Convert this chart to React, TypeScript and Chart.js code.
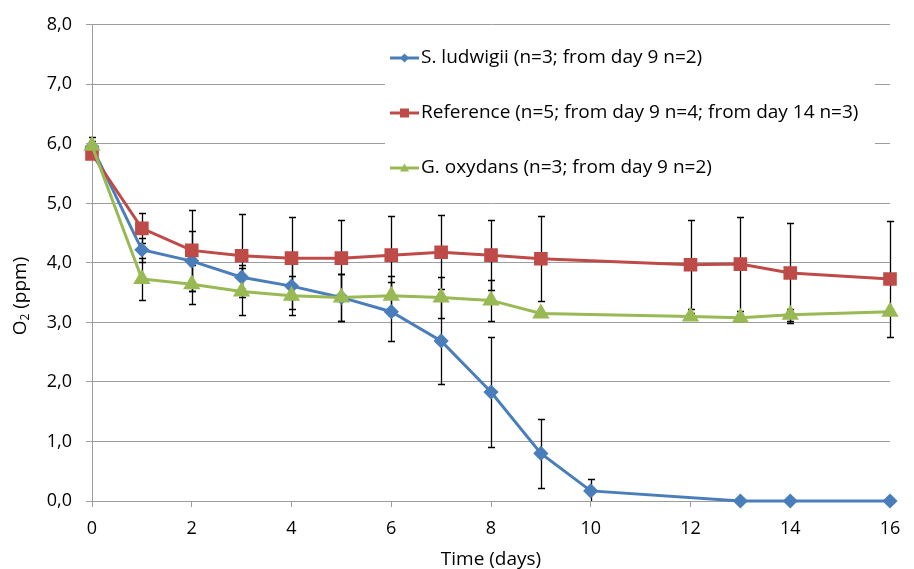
import React, { useEffect, useRef } from 'react';
import { Chart, registerables } from 'chart.js';

Chart.register(...registerables);

// ---------- data ----------
const seriesLabels = [
  'S. ludwigii (n=3; from day 9 n=2)',
  'Reference (n=5; from day 9 n=4; from day 14 n=3)',
  'G. oxydans (n=3; from day 9 n=2)',
];

const ludwigiiDays = [0, 1, 2, 3, 4, 5, 6, 7, 8, 9, 10, 13, 14, 16];
const ludwigiiO2 = [5.95, 4.22, 4.03, 3.76, 3.61, 3.42, 3.18, 2.69, 1.83, 0.8, 0.17, 0, 0, 0];
const ludwigiiErr = [0.17, 0.2, 0.5, 0.2, 0.38, 0.4, 0.5, 0.72, 0.92, 0.58, 0.2, 0, 0, 0];

const referenceDays = [0, 1, 2, 3, 4, 5, 6, 7, 8, 9, 12, 13, 14, 16];
const referenceO2 = [5.83, 4.58, 4.21, 4.12, 4.08, 4.08, 4.13, 4.18, 4.13, 4.07, 3.97, 3.98, 3.83, 3.73];
const referenceErr = [0.05, 0.25, 0.68, 0.7, 0.69, 0.64, 0.65, 0.62, 0.59, 0.71, 0.75, 0.79, 0.84, 0.97];

const oxydansDays = [0, 1, 2, 3, 4, 5, 6, 7, 8, 9, 12, 13, 14, 16];
const oxydansO2 = [5.97, 3.73, 3.64, 3.52, 3.45, 3.42, 3.45, 3.42, 3.37, 3.15, 3.1, 3.08, 3.13, 3.18];
const oxydansErr = [0.08, 0.35, 0.33, 0.4, 0.33, 0.4, 0.33, 0.35, 0.35, 0, 0.05, 0.05, 0.1, 0];

const xAxisTitle = 'Time (days)';
const yAxisTitleMain = 'O';
const yAxisTitleSub = '2';
const yAxisTitleRest = ' (ppm)';

// ---------- styles ----------
const FONT = "'Open Sans', 'DejaVu Sans', sans-serif";
const TEXT_SIZE = 19;
const TICK_SIZE = 18;
const BLUE = '#4A7EBB';
const RED = '#BE4B48';
const GREEN = '#98B954';
const GRID = '#9d9d9d';

const toPoints = (xs: number[], ys: number[]) => xs.map((x, i) => ({ x, y: ys[i] }));

const errorBarPlugin = {
  id: 'errorBars',
  beforeDatasetsDraw(chart: any) {
    const ctx = chart.ctx;
    const yScale = chart.scales.y;
    ctx.save();
    ctx.strokeStyle = '#000';
    ctx.lineWidth = 1.3;
    chart.data.datasets.forEach((ds: any, di: number) => {
      const meta = chart.getDatasetMeta(di);
      const errs: number[] = ds.errors || [];
      meta.data.forEach((pt: any, i: number) => {
        const e = errs[i];
        if (!e) return;
        const v = ds.data[i].y;
        const x = Math.round(pt.x) + 0.5;
        const yTop = yScale.getPixelForValue(v + e);
        const yBot = yScale.getPixelForValue(Math.max(v - e, 0));
        ctx.beginPath();
        ctx.moveTo(x, yTop);
        ctx.lineTo(x, yBot);
        ctx.moveTo(x - 3.5, Math.round(yTop) + 0.5);
        ctx.lineTo(x + 3.5, Math.round(yTop) + 0.5);
        if (v - e > 0) {
          ctx.moveTo(x - 3.5, Math.round(yBot) + 0.5);
          ctx.lineTo(x + 3.5, Math.round(yBot) + 0.5);
        }
        ctx.stroke();
      });
    });
    ctx.restore();
  },
};

function drawMarker(ctx: CanvasRenderingContext2D, style: string, x: number, y: number, r: number) {
  ctx.beginPath();
  if (style === 'rectRot') {
    ctx.moveTo(x, y - r);
    ctx.lineTo(x + r, y);
    ctx.lineTo(x, y + r);
    ctx.lineTo(x - r, y);
  } else if (style === 'rect') {
    ctx.rect(x - r, y - r, 2 * r, 2 * r);
  } else {
    ctx.moveTo(x, y - r);
    ctx.lineTo(x + r, y + r * 0.75);
    ctx.lineTo(x - r, y + r * 0.75);
  }
  ctx.closePath();
  ctx.fill();
}

const legendPlugin = {
  id: 'boxLegend',
  afterDraw(chart: any) {
    const ctx = chart.ctx;
    const ca = chart.chartArea;
    const boxLeft = ca.left + 293;
    const boxRight = ca.left + 783;
    const boxTop = 30;
    const rowGap = 55;
    ctx.save();
    ctx.fillStyle = '#fff';
    ctx.fillRect(boxLeft, boxTop, boxRight - boxLeft, 165);
    chart.data.datasets.forEach((ds: any, i: number) => {
      const y = boxTop + 28 + i * rowGap;
      ctx.strokeStyle = ds.borderColor;
      ctx.lineWidth = 3;
      ctx.beginPath();
      ctx.moveTo(boxLeft + 5, y);
      ctx.lineTo(boxLeft + 34, y);
      ctx.stroke();
      ctx.fillStyle = ds.borderColor;
      drawMarker(ctx, ds.pointStyle, boxLeft + 19.5, y, 4.5);
      ctx.fillStyle = '#000';
      ctx.font = `${TEXT_SIZE}px ${FONT}`;
      ctx.textBaseline = 'middle';
      ctx.textAlign = 'left';
      ctx.fillText(ds.label, boxLeft + 36, y);
    });
    ctx.restore();
  },
};

const yTitlePlugin = {
  id: 'yTitle',
  afterDraw(chart: any) {
    const ctx = chart.ctx;
    ctx.save();
    ctx.translate(21, 296);
    ctx.rotate(-Math.PI / 2);
    ctx.fillStyle = '#000';
    ctx.textBaseline = 'middle';
    ctx.textAlign = 'left';
    const big = `${TEXT_SIZE}px ${FONT}`;
    const small = `${Math.round(TEXT_SIZE * 0.62)}px ${FONT}`;
    ctx.font = big;
    const w1 = ctx.measureText(yAxisTitleMain).width;
    const w3 = ctx.measureText(yAxisTitleRest).width;
    ctx.font = small;
    const w2 = ctx.measureText(yAxisTitleSub).width;
    const total = w1 + w2 + w3;
    let x = -total / 2;
    ctx.font = big;
    ctx.fillText(yAxisTitleMain, x, 0);
    x += w1;
    ctx.font = small;
    ctx.fillText(yAxisTitleSub, x, 5);
    x += w2;
    ctx.font = big;
    ctx.fillText(yAxisTitleRest, x, 0);
    ctx.restore();
  },
};

export default function App() {
  const canvasRef = useRef<HTMLCanvasElement | null>(null);

  useEffect(() => {
    if (!canvasRef.current) return;
    const chart = new Chart(canvasRef.current, {
      type: 'line',
      data: {
        datasets: [
          {
            label: seriesLabels[0],
            data: toPoints(ludwigiiDays, ludwigiiO2),
            errors: ludwigiiErr,
            borderColor: BLUE,
            backgroundColor: BLUE,
            pointStyle: 'rectRot',
            pointRadius: 5.5,
            borderWidth: 3,
            clip: false,
            order: 3,
          } as any,
          {
            label: seriesLabels[1],
            data: toPoints(referenceDays, referenceO2),
            errors: referenceErr,
            borderColor: RED,
            backgroundColor: RED,
            pointStyle: 'rect',
            pointRadius: 7.5,
            borderWidth: 3,
            clip: false,
            order: 2,
          } as any,
          {
            label: seriesLabels[2],
            data: toPoints(oxydansDays, oxydansO2),
            errors: oxydansErr,
            borderColor: GREEN,
            backgroundColor: GREEN,
            pointStyle: 'triangle',
            pointRadius: 7,
            borderWidth: 3,
            clip: false,
            order: 1,
          } as any,
        ],
      },
      options: {
        animation: false,
        responsive: true,
        maintainAspectRatio: false,
        layout: { padding: { top: 22, right: 24, left: 0, bottom: 0 } },
        plugins: {
          legend: { display: false },
          tooltip: { enabled: false },
        },
        elements: {
          point: { borderWidth: 0 },
          line: { tension: 0 },
        },
        scales: {
          x: {
            type: 'linear',
            min: 0,
            max: 16,
            afterFit: (s: any) => { s.height = 68; },
            ticks: {
              stepSize: 2,
              color: '#000',
              padding: 11,
              font: { family: FONT, size: TICK_SIZE },
              maxRotation: 0,
            },
            grid: { drawOnChartArea: false, drawTicks: true, tickLength: 6, color: GRID },
            border: { color: GRID, width: 1 },
            title: {
              display: true,
              text: xAxisTitle,
              color: '#000',
              font: { family: FONT, size: TEXT_SIZE },
              padding: { top: 0, bottom: -2 },
            },
          },
          y: {
            min: 0,
            max: 8,
            afterFit: (s: any) => { s.width = 92; },
            ticks: {
              stepSize: 1,
              color: '#000',
              padding: 14,
              font: { family: FONT, size: TICK_SIZE },
              callback: (v: any) => Number(v).toFixed(1).replace('.', ','),
            },
            grid: { color: GRID, tickLength: 6, drawTicks: true },
            border: { color: GRID, width: 1 },
          },
        },
      },
      plugins: [errorBarPlugin, legendPlugin, yTitlePlugin],
    } as any);
    return () => chart.destroy();
  }, []);

  return (
    <div style={{ position: 'fixed', left: 0, top: 0, width: 914, height: 569, background: '#fff' }}>
      <canvas ref={canvasRef} />
    </div>
  );
}
